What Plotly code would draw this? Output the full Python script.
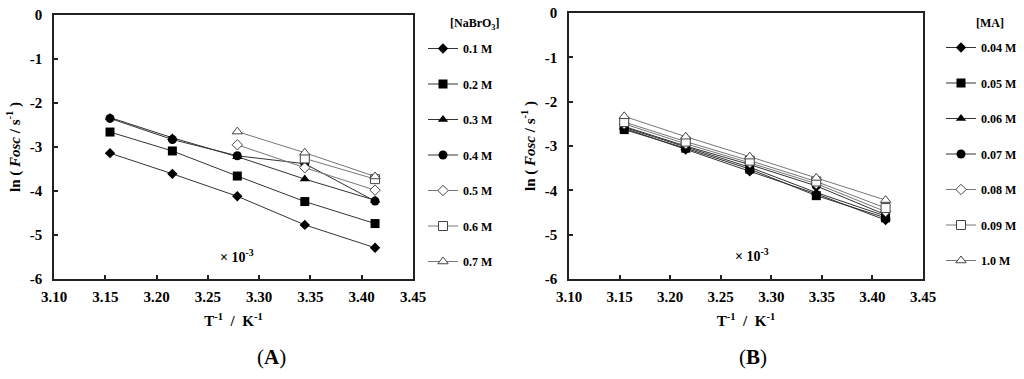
import plotly.graph_objects as go

# ---------------- data ----------------
inv_T = [3.1546, 3.2154, 3.2787, 3.3445, 3.4130]   # T^-1 x 10^3 / K^-1

# Panel A : [NaBrO3]
naBrO3_labels = ["0.1 M", "0.2 M", "0.3 M", "0.4 M", "0.5 M", "0.6 M", "0.7 M"]
naBrO3_01 = [-3.14, -3.61, -4.12, -4.77, -5.29]
naBrO3_02 = [-2.66, -3.09, -3.66, -4.24, -4.74]
naBrO3_03 = [-2.33, -2.79, -3.22, -3.73, -4.21]
naBrO3_04 = [-2.35, -2.83, -3.20, -3.38, -4.23]
naBrO3_05 = [None, None, -2.95, -3.47, -3.98]
naBrO3_06 = [None, None, None, -3.26, -3.73]
naBrO3_07 = [None, None, -2.65, -3.13, -3.67]

# Panel B : [MA]
ma_labels = ["0.04 M", "0.05 M", "0.06 M", "0.07 M", "0.08 M", "0.09 M", "1.0 M"]
ma_004 = [-2.60, -3.08, -3.57, -4.08, -4.67]
ma_005 = [-2.63, -3.05, -3.52, -4.12, -4.62]
ma_006 = [-2.58, -3.02, -3.48, -4.05, -4.58]
ma_007 = [-2.56, -3.00, -3.42, -3.90, -4.55]
ma_008 = [-2.50, -2.95, -3.38, -3.85, -4.48]
ma_009 = [-2.46, -2.90, -3.33, -3.80, -4.40]
ma_100 = [-2.33, -2.79, -3.24, -3.72, -4.22]

x_ticks = [3.10, 3.15, 3.20, 3.25, 3.30, 3.35, 3.40, 3.45]
x_ticktext = ["3.10", "3.15", "3.20", "3.25", "3.30", "3.35", "3.40", "3.45"]
y_ticks = [0, -1, -2, -3, -4, -5, -6]
y_ticktext = ["0", "-1", "-2", "-3", "-4", "-5", "-6"]

# ---------------- styles ----------------
FONT = "Liberation Serif"
styles = [
    dict(symbol="diamond", size=8, color="black", lc="#333333", open=False),
    dict(symbol="square", size=9, color="black", lc="#333333", open=False),
    dict(symbol="triangle-up", size=9, color="black", lc="#333333", open=False),
    dict(symbol="circle", size=9, color="black", lc="#333333", open=False),
    dict(symbol="diamond", size=8, color="white", lc="#777777", open=True),
    dict(symbol="square", size=9, color="white", lc="#777777", open=True),
    dict(symbol="triangle-up", size=9, color="white", lc="#777777", open=True),
]

fig = go.Figure()

def add_series(values, label, st, xaxis, yaxis, legend, group):
    marker = dict(symbol=st["symbol"], size=st["size"], color=st["color"])
    if st["open"]:
        marker["line"] = dict(color="#444444", width=1)
    else:
        marker["line"] = dict(color="black", width=0)
    fig.add_trace(go.Scatter(
        x=inv_T, y=values, name="<b>" + label + "</b>", mode="lines+markers",
        line=dict(color=st["lc"], width=1), marker=marker,
        xaxis=xaxis, yaxis=yaxis, legend=legend, legendgroup=group,
        connectgaps=False))

for i, (vals, lab) in enumerate(zip(
        [naBrO3_01, naBrO3_02, naBrO3_03, naBrO3_04, naBrO3_05, naBrO3_06, naBrO3_07],
        naBrO3_labels)):
    add_series(vals, lab, styles[i], "x", "y", "legend", "a%d" % i)

for i, (vals, lab) in enumerate(zip(
        [ma_004, ma_005, ma_006, ma_007, ma_008, ma_009, ma_100], ma_labels)):
    add_series(vals, lab, styles[i], "x2", "y2", "legend2", "b%d" % i)

W, H = 1024, 379
def px(x):
    return x / W
def py(y):
    return 1 - y / H

bold = lambda lst: ["<b>" + t + "</b>" for t in lst]

axis_common = dict(
    showline=True, linecolor="#222222", linewidth=1.5, mirror=True,
    ticks="inside", ticklen=4, tickcolor="#222222", tickwidth=1.5,
    showgrid=False, zeroline=False,
    tickfont=dict(family=FONT, size=15, color="black"),
)

xtitle = dict(text="<b>T<sup>-1</sup>  /  K<sup>-1</sup></b>",
              font=dict(family=FONT, size=15, color="black"), standoff=12)
ytitle = dict(text="<b>ln ( <i>Fosc</i> / s<sup>-1</sup> )</b>",
              font=dict(family=FONT, size=15, color="black"), standoff=6)

fig.update_layout(
    width=W, height=H,
    margin=dict(l=0, r=0, t=0, b=0, autoexpand=False),
    paper_bgcolor="white", plot_bgcolor="white",
    font=dict(family=FONT, color="black"),
    xaxis=dict(domain=[px(54), px(413)], range=[3.10, 3.45], tickvals=x_ticks,
               ticktext=bold(x_ticktext), title=xtitle, anchor="y", ticklabelstandoff=3,
               **axis_common),
    yaxis=dict(domain=[py(279), py(15)], range=[-6, 0], tickvals=y_ticks,
               ticktext=bold(y_ticktext), title=ytitle, anchor="x", ticklabelstandoff=7,
               **axis_common),
    xaxis2=dict(domain=[px(569), px(923)], range=[3.10, 3.45], tickvals=x_ticks,
                ticktext=bold(x_ticktext), title=xtitle, anchor="y2", ticklabelstandoff=3,
                **axis_common),
    yaxis2=dict(domain=[py(279), py(13)], range=[-6, 0], tickvals=y_ticks,
                ticktext=bold(y_ticktext), title=ytitle, anchor="x2", ticklabelstandoff=7,
                **axis_common),
    legend=dict(x=px(423), y=py(34), xanchor="left", yanchor="top",
                traceorder="grouped", tracegroupgap=16.5, itemwidth=30,
                font=dict(family=FONT, size=12, color="black"),
                bgcolor="rgba(0,0,0,0)", borderwidth=0),
    legend2=dict(x=px(941), y=py(33), xanchor="left", yanchor="top",
                 traceorder="grouped", tracegroupgap=16.5, itemwidth=30,
                 font=dict(family=FONT, size=12, color="black"),
                 bgcolor="rgba(0,0,0,0)", borderwidth=0),
    showlegend=True,
)

def ann(text, x, y, xref="paper", yref="paper", size=12):
    return dict(text=text, x=x, y=y, xref=xref, yref=yref, showarrow=False,
                xanchor="center", yanchor="middle",
                font=dict(family=FONT, size=size, color="black"))

annotations = [
    ann("<b>[NaBrO<sub>3</sub>]</b>", px(475), py(24)),
    ann("<b>[MA]</b>", px(990), py(23)),
    ann("<b>× 10<sup>-3</sup></b>", 3.278, -5.48, "x", "y", 14),
    ann("<b>× 10<sup>-3</sup></b>", 3.281, -5.46, "x2", "y2", 14),
    ann("(<b>A</b>)", px(271), py(357), size=21),
    ann("(<b>B</b>)", px(753), py(357), size=21),
]
fig.update_layout(annotations=annotations)

fig.write_html("out.html", config={"displayModeBar": False},
               post_script="document.body.style.margin='0';document.body.style.overflow='hidden';")
